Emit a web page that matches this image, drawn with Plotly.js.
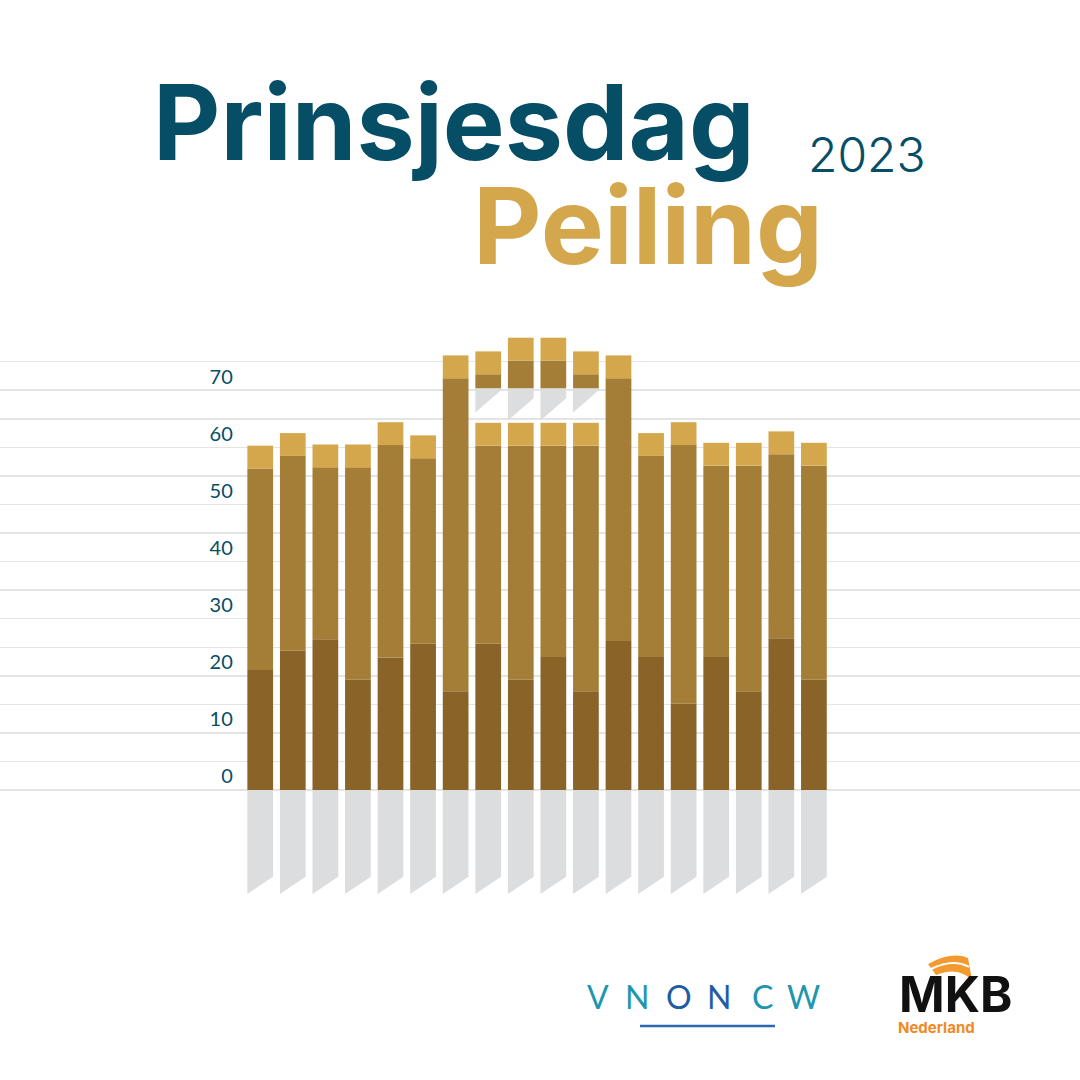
<!DOCTYPE html>
<html>
<head>
<meta charset="utf-8">
<script src="https://cdn.plot.ly/plotly-3.0.1.min.js"></script>
<style>
  html, body { margin: 0; padding: 0; background: #ffffff; }
  #chart { width: 1080px; height: 1080px; }
</style>
</head>
<body>
<div id="chart"></div>
<script>
// ---------------- DATA ----------------
const categories = ["1","2","3","4","5","6","7","8","9","10","11","12","13","14","15","16","17","18"];
// top of the dark (bottom) segment
const darkTop = [21.0, 24.4, 26.4, 19.3, 23.2, 25.6, 17.3, 25.6, 19.3, 23.3, 17.3, 26.1, 23.3, 15.1, 23.3, 17.3, 26.6, 19.3];
// top of the middle segment
const midTop  = [56.3, 58.5, 56.5, 56.5, 60.4, 58.1, 72.1, 60.3, 60.3, 60.3, 60.3, 72.1, 58.5, 60.4, 56.8, 56.8, 58.8, 56.8];
// top of the gold (upper) segment
const goldTop = [60.3, 62.5, 60.5, 60.5, 64.4, 62.1, 76.1, 64.3, 64.3, 64.3, 64.3, 76.1, 62.5, 64.4, 60.8, 60.8, 62.8, 60.8];

// floating upper pieces on bars 8-11
const upperCats    = ["8","9","10","11"];
const upperBase    = [70.3, 70.3, 70.3, 70.3];
const upperMidTop  = [72.8, 75.2, 75.2, 72.8];
const upperGoldTop = [76.8, 79.2, 79.2, 76.8];
const upperShadowRightDrop = [0.3, 1.7, 1.7, 0.3];
const upperShadowLeftDrop  = [4.2, 5.6, 5.6, 4.2];

// grey reflection under the baseline
const baseShadowRight = -15.2;
const baseShadowLeft  = -18.2;

// axis
const tickValues = [0, 10, 20, 30, 40, 50, 60, 70];
const tickLabels = ["0", "10", "20", "30", "40", "50", "60", "70"];
const gridValues = [0, 5, 10, 15, 20, 25, 30, 35, 40, 45, 50, 55, 60, 65, 70, 75];

// ---------------- STYLE ----------------
const C_DARK = "#8A6329", C_MID = "#A47E36", C_GOLD = "#D4A74C", C_SHADOW = "#DCDDDF";
const C_TEAL = "#064E66";
const BAR_W = 0.79;
const LABEL_OFFSET = 2.4;

const idx = c => categories.indexOf(c);
const xAll = categories.map((c, i) => i);
const xUp = upperCats.map(idx);

// polygons for shadows
const sx = [], sy = [];
xAll.forEach(x => {
  const h = BAR_W / 2;
  sx.push(x - h, x + h, x + h, x - h, x - h, null);
  sy.push(0, 0, baseShadowRight, baseShadowLeft, 0, null);
});
xUp.forEach((x, k) => {
  const h = BAR_W / 2, b = upperBase[k];
  sx.push(x - h, x + h, x + h, x - h, x - h, null);
  sy.push(b, b, b - upperShadowRightDrop[k], b - upperShadowLeftDrop[k], b, null);
});

const traces = [
  { type: "scatter", x: sx, y: sy, mode: "lines", fill: "toself", fillcolor: C_SHADOW,
    line: { width: 0, color: C_SHADOW }, hoverinfo: "skip", showlegend: false },
  { type: "bar", x: xAll, base: xAll.map(() => 0), y: darkTop, width: BAR_W,
    marker: { color: C_DARK, line: { width: 0 } }, showlegend: false },
  { type: "bar", x: xAll, base: darkTop, y: midTop.map((v, i) => v - darkTop[i]), width: BAR_W,
    marker: { color: C_MID, line: { width: 0 } }, showlegend: false },
  { type: "bar", x: xAll, base: midTop, y: goldTop.map((v, i) => v - midTop[i]), width: BAR_W,
    marker: { color: C_GOLD, line: { width: 0 } }, showlegend: false },
  { type: "bar", x: xUp, base: upperBase, y: upperMidTop.map((v, i) => v - upperBase[i]), width: BAR_W,
    marker: { color: C_MID, line: { width: 0 } }, showlegend: false },
  { type: "bar", x: xUp, base: upperMidTop, y: upperGoldTop.map((v, i) => v - upperMidTop[i]), width: BAR_W,
    marker: { color: C_GOLD, line: { width: 0 } }, showlegend: false }
];

// pixel helpers for decorative layout items (plot area: y 300..910, x 0..1080)
const PX = x => x / 1080;
const PY = y => (910 - y) / 610;

const vnoLetters = ["V", "N", "O", "N", "C", "W"];
const vnoX = [598, 637, 679, 719, 762, 803];
const vnoColors = ["#1E96AE", "#1E96AE", "#1F5CA3", "#1F5CA3", "#1E96AE", "#1E96AE"];

const annotations = [
  { text: "<b>Prinsjesdag</b>", x: PX(151), y: PY(122), xanchor: "left", yanchor: "middle",
    xref: "paper", yref: "paper", showarrow: false,
    font: { family: "Inter", size: 104, color: C_TEAL, weight: 800 } },
  { text: "2023", x: PX(806), y: PY(154), xanchor: "left", yanchor: "middle",
    xref: "paper", yref: "paper", showarrow: false,
    font: { family: "Inter", size: 48, color: C_TEAL, weight: 300 } },
  { text: "<b>Peiling</b>", x: PX(471), y: PY(225), xanchor: "left", yanchor: "middle",
    xref: "paper", yref: "paper", showarrow: false,
    font: { family: "Inter", size: 106, color: C_GOLD, weight: 800 } },
  { text: "<b>MKB</b>", x: PX(955), y: PY(994), xanchor: "center", yanchor: "middle",
    xref: "paper", yref: "paper", showarrow: false,
    font: { family: "Inter", size: 49, color: "#111111", weight: 900 } },
  { text: "<b>Nederland</b>", x: PX(896), y: PY(1027), xanchor: "left", yanchor: "middle",
    xref: "paper", yref: "paper", showarrow: false,
    font: { family: "Inter", size: 15, color: "#F08A24" } }
];
vnoLetters.forEach((l, i) => annotations.push({
  text: l, x: PX(vnoX[i]), y: PY(996), xanchor: "center", yanchor: "middle",
  xref: "paper", yref: "paper", showarrow: false,
  font: { family: "Lato", size: 32, color: vnoColors[i], weight: 400 }
}));

const shapes = [
  { type: "line", xref: "paper", yref: "paper", x0: PX(640), x1: PX(775), y0: PY(1026), y1: PY(1026),
    line: { color: "#2C68B2", width: 2.5 } },
  { type: "path", xref: "paper", yref: "paper", fillcolor: "#F39A2E", line: { width: 0 },
    path: `M ${PX(928)},${PY(964)} Q ${PX(952)},${PY(951)} ${PX(968)},${PY(958)} L ${PX(972)},${PY(980)} Q ${PX(958)},${PY(966)} ${PX(936)},${PY(975)} Z` },
  { type: "path", xref: "paper", yref: "paper", fillcolor: "rgba(0,0,0,0)", line: { width: 2, color: "#ffffff" },
    path: `M ${PX(931)},${PY(969)} Q ${PX(953)},${PY(958)} ${PX(969)},${PY(967)}` }
];

const layout = {
  width: 1080, height: 1080,
  margin: { l: 0, r: 0, t: 300, b: 170, pad: 0 },
  paper_bgcolor: "#ffffff", plot_bgcolor: "#ffffff",
  barmode: "overlay", showlegend: false, hovermode: false,
  xaxis: { range: [-7.99, 25.17], showgrid: false, zeroline: false, showticklabels: false,
           showline: false, ticks: "", fixedrange: true },
  yaxis: {
    range: [-21.0, 85.8], anchor: "free", position: 0.2155, side: "left",
    tickmode: "array", tickvals: tickValues.map(v => v + LABEL_OFFSET), ticktext: tickLabels,
    showgrid: false, zeroline: false, showline: false, ticks: "",
    tickfont: { family: "Lato", size: 20, color: C_TEAL },
    minor: { tickmode: "array", tickvals: gridValues, showgrid: true, gridcolor: "#E4E4E4",
             gridwidth: 1.5, ticks: "" },
    fixedrange: true
  },
  annotations: annotations,
  shapes: shapes
};

Plotly.newPlot("chart", traces, layout, { staticPlot: true, displayModeBar: false });
</script>
</body>
</html>
